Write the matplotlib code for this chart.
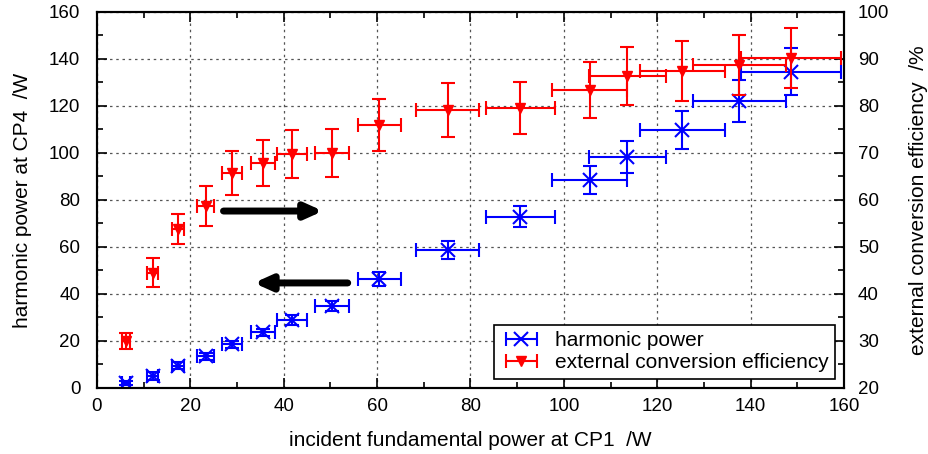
import matplotlib
matplotlib.use('Agg')
import matplotlib.pyplot as plt
from matplotlib.ticker import MultipleLocator
from matplotlib.legend_handler import HandlerErrorbar
from matplotlib.container import ErrorbarContainer

plt.rcParams['font.family'] = ['Liberation Sans', 'DejaVu Sans']

# incident fundamental power (shared by both series)
p_in = [6.2, 11.9, 17.3, 23.3, 28.9, 35.5, 41.7, 50.3, 60.5, 75.1, 90.7, 105.5, 113.6, 125.4, 137.6, 148.7]
p_in_err = [0.9, 1.1, 1.3, 1.8, 2.2, 2.6, 3.2, 3.7, 4.7, 6.7, 7.4, 8.0, 8.2, 9.1, 10.0, 10.7]

# harmonic power at CP4
p_harm = [2.1, 5.1, 9.4, 13.6, 18.7, 23.8, 28.9, 34.9, 46.4, 58.7, 72.8, 88.5, 98.3, 109.8, 122.1, 134.5]
p_harm_err = [1.0, 1.5, 1.5, 1.5, 1.5, 1.5, 2.0, 2.0, 3.0, 3.8, 4.5, 6.0, 7.0, 8.0, 9.0, 10.0]

# external conversion efficiency
eff = [30.0, 44.5, 53.8, 58.7, 65.7, 67.9, 69.8, 70.0, 76.0, 79.1, 79.6, 83.4, 86.4, 87.4, 88.7, 90.2]
eff_err = [1.7, 3.1, 3.2, 4.3, 4.7, 4.9, 5.1, 5.1, 5.5, 5.7, 5.6, 6.0, 6.2, 6.4, 6.4, 6.3]

fig = plt.figure(figsize=(9.29, 4.54), dpi=100)
ax1 = fig.add_axes([0.1044, 0.1454, 0.8041, 0.8282])
ax2 = ax1.twinx()

h1 = ax1.errorbar(p_in, p_harm, xerr=p_in_err, yerr=p_harm_err, fmt='x', color='blue',
                  markersize=10, markeredgewidth=1.5, elinewidth=1.5, capsize=5, capthick=1.5,
                  label='harmonic power', zorder=3)
h2 = ax2.errorbar(p_in, eff, xerr=p_in_err, yerr=eff_err, fmt='v', color='red',
                  markersize=7, elinewidth=1.5, capsize=5, capthick=1.5,
                  label='external conversion efficiency', zorder=3)
# legend shows only the horizontal bars
h1.has_yerr = False
h2.has_yerr = False

ax1.set_xlim(0, 160)
ax1.set_ylim(0, 160)
ax2.set_ylim(20, 100)

ax1.xaxis.set_major_locator(MultipleLocator(20))
ax1.xaxis.set_minor_locator(MultipleLocator(10))
ax1.yaxis.set_major_locator(MultipleLocator(20))
ax1.yaxis.set_minor_locator(MultipleLocator(10))
ax2.yaxis.set_major_locator(MultipleLocator(10))
ax2.yaxis.set_minor_locator(MultipleLocator(5))

ax1.grid(True, which='major', linestyle=(0, (2, 3)), color='#555555', linewidth=0.9)

for ax in (ax1, ax2):
    ax.tick_params(which='both', direction='in', labelsize=13.5, width=1.2)
    ax.tick_params(which='major', length=7)
    ax.tick_params(which='minor', length=4)
    for s in ax.spines.values():
        s.set_linewidth(1.5)
ax1.tick_params(which='both', top=True, right=False)
ax1.tick_params(axis='x', pad=7)
ax1.tick_params(axis='y', pad=12)
ax2.tick_params(axis='y', pad=10)

ax1.set_xlabel('incident fundamental power at CP1  /W', fontsize=15, labelpad=12)
ax1.set_ylabel('harmonic power at CP4  /W', fontsize=15, labelpad=12)
ax2.set_ylabel('external conversion efficiency  /%', fontsize=15, labelpad=14)

# arrows pointing to the axis each series belongs to
arrow = dict(arrowstyle='-|>,head_length=1.0,head_width=0.45', color='black', lw=5)
ax1.annotate('', xy=(49, 75.3), xytext=(26.5, 75.3), arrowprops=arrow)
ax1.annotate('', xy=(33, 44.7), xytext=(54.3, 44.7), arrowprops=arrow)

leg = ax2.legend([h1, h2], ['harmonic power', 'external conversion efficiency'],
                 loc='lower right', fontsize=15, fancybox=False, framealpha=1,
                 edgecolor='black', borderaxespad=0.45, handlelength=2.0,
                 borderpad=0.3, labelspacing=0.15, handletextpad=0.6,
                 handler_map={ErrorbarContainer: HandlerErrorbar(xerr_size=0.75)})
leg.get_frame().set_linewidth(1.2)

fig.savefig('out.png', dpi=100)
